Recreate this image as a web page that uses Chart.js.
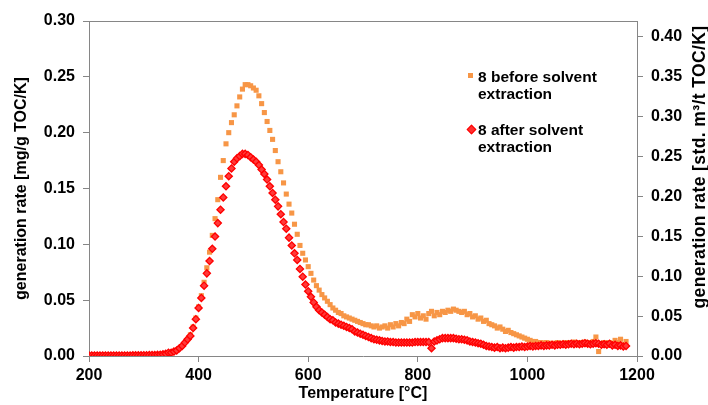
<!DOCTYPE html>
<html>
<head>
<meta charset="utf-8">
<script src="https://cdn.jsdelivr.net/npm/chart.js@4.4.1/dist/chart.umd.min.js"></script>
<style>
  body { margin: 0; background: #fff; }
  #wrap { position: relative; width: 708px; height: 405px; }
  .leg { position: absolute; left: 478px; font: bold 15.5px "Liberation Sans", Arial, sans-serif; line-height: 17px; color: #000; }
  .sq { position: absolute; left: 468px; top: 73px; width: 5px; height: 5px; background: #F79646; }
  .dm { position: absolute; left: 468px; top: 126px; width: 5px; height: 5px; background: #ff3030; border: 1px solid #ff0000; transform: rotate(45deg); }
  .rtitle { position: absolute; width: 340px; height: 20px; left: 529px; top: 157px; transform: rotate(-90deg);
            text-align: center; white-space: nowrap; font: bold 17.5px "Liberation Sans", Arial, sans-serif;
            letter-spacing: 0.4px; line-height: 20px; color: #000; }
</style>
</head>
<body>
<div id="wrap">
  <canvas id="chart" width="708" height="405"></canvas>
  <div class="sq"></div>
  <div class="leg" style="top:68px">8 before solvent<br>extraction</div>
  <div class="dm"></div>
  <div class="leg" style="top:121px">8 after solvent<br>extraction</div>
  <div class="rtitle">generation rate [std. m³/t TOC/K]</div>
</div>
<script>
// temperature [°C]
const temps = [
  200, 205, 210, 215, 220, 225, 230, 235, 240, 245, 250, 255, 260, 265, 270, 275, 280, 285, 290, 295,
  300, 305, 310, 315, 320, 325, 330, 335,
  340, 345, 350, 355, 360, 365, 370, 375, 380, 385, 390, 395,
  400, 405, 410, 415, 420, 425, 430, 435, 440, 445, 450, 455, 460, 465, 470, 475, 480, 485, 490, 495,
  500, 505, 510, 515, 520, 525, 530, 535, 540, 545, 550, 555, 560, 565, 570, 575, 580, 585, 590, 595,
  600, 605, 610, 615, 620, 625, 630, 635, 640, 645, 650, 655, 660, 665, 670, 675, 680, 685, 690, 695,
  700, 705, 710, 715, 720, 725, 730, 735, 740, 745, 750, 755, 760, 765, 770, 775, 780, 785, 790, 795,
  800, 805, 810, 815, 820, 825, 830, 835, 840, 845, 850, 855, 860, 865, 870, 875, 880, 885, 890, 895,
  900, 905, 910, 915, 920, 925, 930, 935, 940, 945, 950, 955, 960, 965, 970, 975, 980, 985, 990, 995,
  1000, 1005, 1010, 1015, 1020, 1025, 1030, 1035, 1040, 1045, 1050, 1055, 1060, 1065, 1070, 1075, 1080, 1085, 1090, 1095,
  1100, 1105, 1110, 1115, 1120, 1125, 1130, 1135, 1140, 1145, 1150, 1155, 1160, 1165, 1170, 1175, 1180
];

// 8 before solvent extraction [mg/g TOC/K]
const beforeExtraction = [
  null, null, null, null, null, null, null, null, null, null, null, null, null, null, null, null, null, null, null, null,
  null, null, null, null, null, null, null, null,
  null, null, null, null, null, null, null, null, .015, .019, .026, .034,
  .044, .054, .066, .079, .093, .108, .123, .140, .160, .175, .190, .200, .209, .216, .224, .232, .239, .243, .243, .242,
  .240, .238, .233, .226, .218, .210, .202, .194, .184, .174, .165, .155, .145, .136, .128, .118, .109, .099, .092, .086,
  .080, .074, .068, .063, .059, .055, .052, .049, .046, .043, .041, .039, .038, .036, .035, .034, .033, .032, .031, .030,
  .029, .028, .028, .027, .026, .027, .025, .026, .027, .025, .028, .026, .029, .027, .030, .029, .033, .031, .037, .035,
  .038, .034, .036, .033, .038, .040, .036, .039, .037, .040, .039, .041, .040, .042, .041, .040, .039, .040, .037, .038,
  .035, .036, .033, .034, .031, .032, .029, .028, .027, .025, .026, .024, .022, .023, .021, .020, .019, .018, .017, .016,
  .015, .014, .013, .013, .012, .012, .0115, .012, .0115, .011, .0115, .012, .011, .0115, .012, .0115, .012, .0125, .012, .0115,
  .012, .0125, .011, .012, .013, .017, .004, .011, .012, .010, .012, .011, .014, .012, .015, .010, .013
];

// 8 after solvent extraction [mg/g TOC/K]
const afterExtraction = [
  .0005, .0005, .0005, .0005, .0005, .0005, .0005, .0005, .0005, .0005, .0005, .0005, .0005, .0005, .0005, .0005, .0006, .0006, .0006, .0006,
  .0007, .0007, .0008, .0008, .0009, .001, .0012, .0015,
  .002, .003, .003, .004, .005, .007, .009, .012, .015, .018, .025, .033,
  .043, .052, .063, .074, .085, .096, .107, .119, .131, .142, .152, .161, .168, .174, .177, .179, .181, .181, .180, .178,
  .176, .174, .171, .167, .163, .158, .152, .146, .140, .134, .127, .120, .114, .106, .099, .092, .086, .078, .071, .064,
  .058, .053, .048, .044, .041, .039, .037, .035, .033, .032, .030, .029, .028, .027, .026, .025, .024, .022, .021, .020,
  .019, .018, .017, .016, .015, .0145, .014, .0135, .013, .013, .0125, .0125, .012, .012, .012, .012, .012, .012, .012, .0125,
  .0125, .0125, .0125, .0125, .0125, .007, .013, .014, .015, .016, .016, .016, .016, .016, .0155, .015, .015, .0145, .014, .013,
  .0125, .012, .0115, .011, .010, .009, .0085, .008, .0075, .008, .007, .0075, .007, .0075, .008, .0075, .008, .008, .0085, .008,
  .0085, .009, .0085, .009, .009, .0095, .009, .0095, .0095, .010, .0095, .010, .010, .0105, .010, .0105, .011, .0105, .011, .0105,
  .011, .0115, .011, .0105, .011, .0115, .011, .010, .0105, .010, .011, .0095, .010, .009, .0095, .0085, .009
];

const xTicks = [200, 400, 600, 800, 1000, 1200];
const leftMax = 0.30;
const rightMax = 0.42;   // right axis is the left one in std. m³/t units

function toPoints(values) {
  const pts = [];
  values.forEach((v, i) => {
    if (v !== null) pts.push({ x: temps[i], y: v });
  });
  return pts;
}

const axisGray = "#868686";

// top edge of the plot box
const boxTop = {
  id: "boxTop",
  afterDraw(chart) {
    const { ctx, chartArea } = chart;
    ctx.save();
    ctx.strokeStyle = axisGray;
    ctx.lineWidth = 1;
    ctx.beginPath();
    ctx.moveTo(chartArea.left, chartArea.top + 0.5);
    ctx.lineTo(chartArea.right, chartArea.top + 0.5);
    ctx.stroke();
    ctx.restore();
  }
};

Chart.defaults.font.family = '"Liberation Sans", Arial, sans-serif';
Chart.defaults.font.weight = "bold";
Chart.defaults.font.size = 16;
Chart.defaults.color = "#000";

new Chart(document.getElementById("chart"), {
  type: "scatter",
  data: {
    datasets: [
      {
        label: "8 after solvent extraction",
        data: toPoints(afterExtraction),
        pointStyle: "rectRot",
        pointRadius: 3.6,
        backgroundColor: "#ff3a3a",
        borderColor: "#ff0000",
        borderWidth: 1.3,
        yAxisID: "y"
      },
      {
        label: "8 before solvent extraction",
        data: toPoints(beforeExtraction),
        pointStyle: "rect",
        pointRadius: 3.6,
        backgroundColor: "#F79646",
        borderColor: "#F79646",
        borderWidth: 0,
        yAxisID: "y"
      }
    ]
  },
  options: {
    responsive: false,
    animation: false,
    layout: { padding: { top: 21, right: 0, bottom: 0, left: 0 } },
    plugins: { legend: { display: false }, tooltip: { enabled: false } },
    scales: {
      x: {
        type: "linear",
        min: 200,
        max: 1200,
        afterBuildTicks: (s) => { s.ticks = xTicks.map(v => ({ value: v })); },
        afterFit: (s) => { s.height = 49; },
        grid: { drawOnChartArea: false, tickLength: 6, color: axisGray },
        border: { color: axisGray },
        ticks: { padding: 4, callback: (v) => String(v) },
        title: { display: true, text: "Temperature [°C]", padding: { top: 0, bottom: 2 }, font: { size: 16, lineHeight: 1.2 } }
      },
      y: {
        position: "left",
        min: 0,
        max: leftMax,
        afterFit: (s) => { s.width = 89; },
        grid: { drawOnChartArea: false, tickLength: 6, color: axisGray },
        border: { color: axisGray },
        ticks: { stepSize: 0.05, padding: 8, callback: (v) => v.toFixed(2) },
        title: { display: true, text: "generation rate [mg/g TOC/K]", padding: { top: 12, bottom: 0 }, font: { size: 16, lineHeight: 1.2 } }
      },
      y2: {
        position: "right",
        min: 0,
        max: rightMax,
        afterFit: (s) => { s.width = 71; },
        grid: { drawOnChartArea: false, tickLength: 6, color: axisGray },
        border: { color: axisGray },
        ticks: { stepSize: 0.05, padding: 8, includeBounds: false, callback: (v) => v.toFixed(2) },
        title: { display: false }
      }
    }
  },
  plugins: [boxTop]
});
</script>
</body>
</html>
